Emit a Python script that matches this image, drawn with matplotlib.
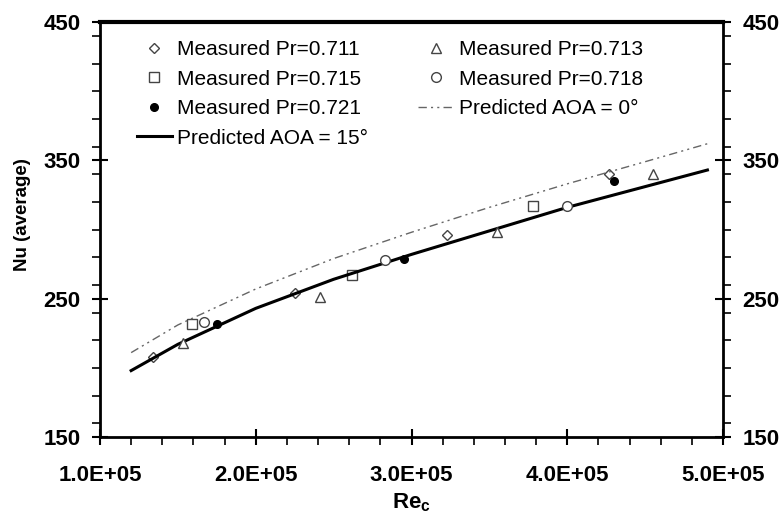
import matplotlib
matplotlib.use("Agg")
import matplotlib.pyplot as plt
from matplotlib.ticker import MultipleLocator, FixedLocator, FixedFormatter

plt.rcParams['font.family'] = ['Liberation Sans', 'DejaVu Sans']
plt.rcParams['mathtext.fontset'] = 'custom'
plt.rcParams['mathtext.bf'] = 'Liberation Sans:bold'
plt.rcParams['mathtext.rm'] = 'Liberation Sans'

# 测量数据 (Re_c, Nu)
re_711 = [1.34e5, 2.25e5, 3.23e5, 4.27e5]
nu_711 = [208, 254, 296, 340]
re_713 = [1.53e5, 2.41e5, 3.55e5, 4.55e5]
nu_713 = [218, 251, 298, 340]
re_715 = [1.59e5, 2.62e5, 3.78e5]
nu_715 = [232, 267, 317]
re_718 = [1.67e5, 2.83e5, 4.00e5]
nu_718 = [233, 278, 317]
re_721 = [1.75e5, 2.95e5, 4.30e5]
nu_721 = [232, 279, 335]

# 预测曲线
re_pred = [1.2e5, 1.5e5, 2.0e5, 2.5e5, 3.0e5, 3.5e5, 4.0e5, 4.5e5, 4.9e5]
nu_aoa15 = [198, 217, 243, 264, 282, 299, 316, 331, 343]
nu_aoa0 = [211, 231, 257, 279, 298, 316, 333, 349, 362]

xticks = [1e5, 2e5, 3e5, 4e5, 5e5]
xtick_labels = ['1.0E+05', '2.0E+05', '3.0E+05', '4.0E+05', '5.0E+05']
yticks = [150, 250, 350, 450]

fig = plt.figure(figsize=(7.81, 5.23), dpi=100)
ax = fig.add_axes([100/781, 1-437/523, 623/781, 415/523])

mk = dict(linestyle='none', markersize=7, markerfacecolor='white',
          markeredgecolor='#444444', markeredgewidth=1.0)
l1, = ax.plot(re_711, nu_711, marker='D', **{**mk, 'markersize': 5.5}, label='Measured Pr=0.711')
l2, = ax.plot(re_715, nu_715, marker='s', **mk, label='Measured Pr=0.715')
l3, = ax.plot(re_721, nu_721, marker='o', linestyle='none', markersize=5.5,
              color='black', label='Measured Pr=0.721')
l4, = ax.plot(re_pred, nu_aoa15, color='black', linewidth=2.2, label='Predicted AOA = 15°')
l5, = ax.plot(re_713, nu_713, marker='^', **mk, label='Measured Pr=0.713')
l6, = ax.plot(re_718, nu_718, marker='o', **mk, label='Measured Pr=0.718')
l7, = ax.plot(re_pred, nu_aoa0, color='#666666', linewidth=1.0,
              dashes=(6, 3, 1.5, 3, 1.5, 3), label='Predicted AOA = 0°')

ax.set_xlim(1e5, 5e5)
ax.set_ylim(150, 450)

ax.xaxis.set_major_locator(FixedLocator(xticks))
ax.xaxis.set_major_formatter(FixedFormatter(xtick_labels))
ax.xaxis.set_minor_locator(MultipleLocator(2e4))
ax.yaxis.set_major_locator(FixedLocator(yticks))
ax.yaxis.set_minor_locator(MultipleLocator(20))

ax.tick_params(axis='x', which='major', direction='inout', length=12, width=1.5,
               pad=14, labelsize=16)
ax.tick_params(axis='x', which='minor', direction='out', length=6, width=1.2)
ax.tick_params(axis='y', which='major', direction='inout', length=12, width=1.5,
               pad=8, labelsize=16, left=True, right=True,
               labelleft=True, labelright=True)
ax.tick_params(axis='y', which='minor', direction='out', length=6, width=1.2,
               left=True, right=True)
for lab in ax.get_xticklabels() + ax.get_yticklabels():
    lab.set_fontweight('bold')
for t in ax.yaxis.get_major_ticks():
    t.label2.set_fontweight('bold')

ax.spines['top'].set_linewidth(3)
ax.spines['bottom'].set_linewidth(2)
ax.spines['left'].set_linewidth(2)
ax.spines['right'].set_linewidth(2)

ax.set_ylabel('Nu (average)', fontsize=13.5, fontweight='bold')
ax.yaxis.set_label_coords(-0.11, 0.535)
ax.set_xlabel(r'$\mathbf{Re}_{\mathbf{c}}$', fontsize=16)
ax.xaxis.set_label_coords(0.5, -0.13)

leg = ax.legend(handles=[l1, l2, l3, l4, l5, l6, l7], ncol=2, frameon=False,
                loc='upper left', bbox_to_anchor=(0.059, 0.956), fontsize=15,
                handlelength=1.7, handletextpad=0.25, columnspacing=2.4,
                labelspacing=0.5, borderaxespad=0, borderpad=0)

fig.savefig('out.png', dpi=100)
